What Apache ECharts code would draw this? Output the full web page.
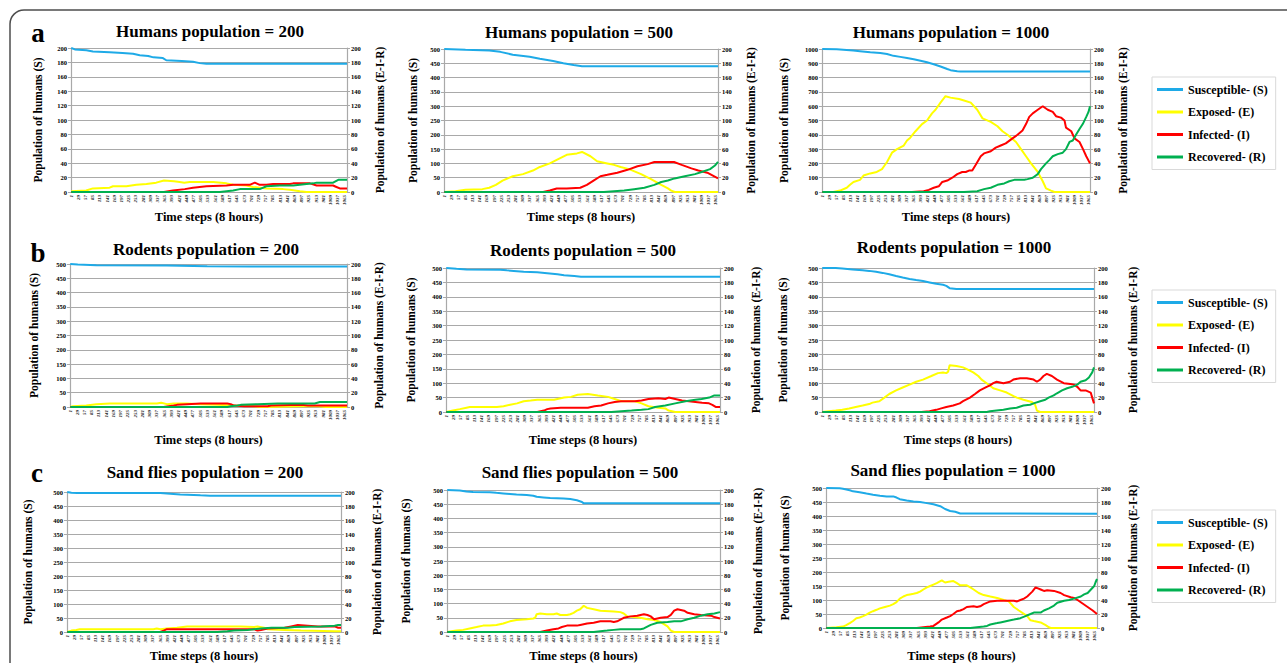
<!DOCTYPE html>
<html>
<head>
<meta charset="utf-8">
<title>SEIR simulations</title>
<script src="https://cdn.jsdelivr.net/npm/echarts@6/dist/echarts.min.js"></script>
<style>
  html, body { margin: 0; padding: 0; background: #fff; }
  #chart { width: 1287px; height: 663px; }
</style>
</head>
<body>
<div id="chart"></div>
<script>
// every point is [time step, population]

// a - humans
const humans200S = [[1,200],[15,198],[60,197],[85,195],[150,194],[200,193],[241,192],[267,190],[300,189],[320,187],[357,186],[370,183],[430,182],[474,181],[500,179],[526,178],[1072,178]];
const humans200E = [[1,1],[59,2],[85,5],[150,6],[163,8],[215,8],[254,10],[293,11],[331,13],[361,16],[400,15],[422,14],[440,13],[461,14],[552,14],[604,12],[630,10],[681,9],[707,7],[759,5],[824,4],[850,3],[889,1],[915,0],[1072,0]];
const humans200I = [[1,0],[361,0],[396,2],[442,4],[474,6],[500,7],[526,8],[604,9],[630,10],[694,10],[714,13],[733,10],[759,10],[785,11],[850,11],[863,12],[928,12],[954,9],[1018,9],[1031,7],[1044,5],[1072,5]];
const humans200R = [[1,0],[578,0],[604,1],[630,2],[656,4],[733,4],[759,8],[811,9],[863,9],[889,10],[915,11],[941,12],[954,13],[1018,13],[1038,17],[1072,17]];

const humans500S = [[1,500],[84,497],[177,495],[220,490],[269,480],[335,473],[375,466],[427,458],[467,450],[507,444],[540,440],[1072,440]];
const humans500E = [[1,0],[45,1],[84,3],[150,4],[177,6],[203,10],[229,16],[269,22],[309,25],[348,30],[375,35],[414,40],[441,45],[480,52],[520,54],[540,56],[573,50],[599,43],[639,40],[665,38],[691,35],[724,32],[771,25],[810,18],[850,10],[876,5],[889,2],[903,0],[1072,0]];
const humans500I = [[1,0],[388,0],[414,2],[441,5],[480,5],[533,6],[559,10],[585,16],[612,22],[639,24],[678,27],[718,31],[757,36],[797,39],[823,42],[900,42],[930,38],[968,33],[995,30],[1030,27],[1072,19]];
const humans500R = [[1,0],[625,0],[665,1],[705,2],[744,4],[784,6],[823,10],[850,14],[876,16],[902,19],[942,22],[982,25],[1008,28],[1041,32],[1060,37],[1072,42]];

const humans1000S = [[1,1000],[59,998],[85,995],[125,990],[152,985],[193,977],[233,972],[260,965],[286,952],[313,945],[340,937],[367,928],[394,918],[420,907],[447,893],[474,878],[501,860],[514,852],[541,845],[554,842],[1072,842]];
const humans1000E = [[1,0],[45,0],[72,2],[99,6],[112,10],[126,14],[152,17],[166,23],[193,26],[219,28],[240,32],[246,35],[260,42],[280,55],[300,60],[327,65],[340,72],[353,76],[374,85],[400,95],[420,100],[440,110],[454,115],[474,125],[494,134],[514,132],[548,130],[568,128],[595,125],[621,115],[642,103],[675,98],[702,92],[722,85],[742,80],[776,70],[796,60],[816,50],[836,40],[863,28],[883,15],[896,5],[916,2],[930,0],[1072,0]];
const humans1000I = [[1,0],[360,0],[407,1],[427,3],[447,6],[467,8],[481,14],[501,16],[521,20],[541,25],[561,28],[575,28],[588,30],[601,30],[615,38],[635,50],[648,54],[675,57],[695,62],[715,65],[735,68],[762,75],[782,80],[802,86],[816,95],[829,105],[843,110],[863,115],[883,120],[903,115],[923,112],[936,106],[956,104],[970,100],[976,90],[997,85],[1010,75],[1030,70],[1044,60],[1057,50],[1072,40]];
const humans1000R = [[1,0],[568,0],[621,1],[648,4],[675,6],[702,10],[729,12],[749,15],[769,17],[809,17],[822,18],[843,20],[863,25],[876,32],[896,40],[910,45],[923,50],[943,53],[963,55],[976,60],[990,70],[1003,72],[1016,80],[1030,88],[1043,95],[1057,105],[1066,112],[1072,120]];

// b - rodents
const rodents200S = [[1,500],[30,498],[102,496],[375,495],[427,494],[531,492],[700,491],[1072,491]];
const rodents200E = [[1,0],[11,1],[63,2],[102,4],[154,5],[336,5],[353,6],[375,4],[401,5],[453,5],[505,4],[570,3],[635,2],[713,1],[739,0],[900,1],[960,1],[990,0],[1072,0]];
const rodents200I = [[1,0],[362,0],[401,2],[414,3],[453,4],[505,5],[609,5],[622,4],[635,2],[674,1],[765,1],[778,2],[895,3],[921,2],[1072,2]];
const rodents200R = [[1,0],[609,0],[622,1],[648,2],[661,3],[726,4],[804,5],[947,5],[967,7],[1072,7]];

const rodents500S = [[1,500],[41,497],[80,495],[212,494],[238,492],[265,490],[304,487],[357,485],[396,482],[436,478],[462,475],[502,472],[528,470],[1072,470]];
const rodents500E = [[1,0],[27,2],[54,4],[80,6],[93,7],[199,7],[225,8],[251,10],[278,12],[304,15],[331,16],[357,17],[423,17],[436,18],[462,20],[489,21],[515,24],[555,25],[594,23],[634,21],[660,18],[686,15],[739,15],[765,12],[792,8],[831,6],[858,5],[871,2],[897,0],[1072,0]];
const rodents500I = [[1,0],[357,0],[383,2],[396,4],[409,5],[449,6],[555,6],[581,8],[607,9],[634,12],[660,14],[686,15],[739,15],[765,16],[792,18],[831,19],[858,18],[871,20],[897,18],[923,16],[950,15],[1002,13],[1029,12],[1042,10],[1055,7],[1072,7]];
const rodents500R = [[1,0],[647,0],[686,1],[726,2],[765,3],[792,4],[818,7],[858,9],[897,12],[937,15],[976,17],[1000,18],[1030,20],[1050,23],[1072,23]];

const rodents1000S = [[1,500],[54,500],[80,498],[120,495],[160,492],[186,490],[213,487],[239,483],[265,478],[292,472],[318,467],[345,462],[371,458],[398,455],[424,450],[450,445],[477,442],[490,438],[503,430],[530,427],[1072,427]];
const rodents1000E = [[1,0],[27,1],[54,2],[80,3],[107,5],[133,7],[160,9],[186,11],[199,13],[226,15],[246,20],[265,25],[292,30],[318,34],[345,38],[371,42],[398,45],[431,50],[457,54],[477,55],[490,54],[497,56],[503,65],[530,64],[556,62],[569,60],[596,55],[616,50],[629,45],[649,40],[675,33],[702,30],[728,27],[755,22],[768,20],[794,17],[827,14],[840,10],[847,2],[860,0],[1072,0]];
const rodents1000I = [[1,0],[391,0],[424,1],[450,3],[470,5],[490,7],[517,9],[543,12],[556,15],[583,20],[603,25],[622,30],[649,35],[662,37],[675,40],[688,42],[715,40],[741,42],[754,45],[781,47],[807,47],[834,45],[847,42],[860,45],[873,50],[886,53],[906,50],[926,45],[953,40],[979,39],[992,38],[1006,35],[1019,30],[1039,30],[1059,27],[1065,20],[1072,12]];
const rodents1000R = [[1,0],[649,0],[662,1],[688,2],[715,3],[741,5],[767,6],[794,9],[820,10],[834,12],[860,15],[880,17],[893,20],[913,23],[926,26],[946,30],[966,33],[986,35],[1006,38],[1019,42],[1039,44],[1052,48],[1065,55],[1072,62]];

// c - sand flies
const flies200S = [[1,500],[17,497],[40,496],[365,496],[391,495],[417,493],[443,491],[470,490],[522,488],[560,487],[1072,487]];
const flies200E = [[1,0],[17,2],[36,3],[50,4],[338,4],[351,5],[365,4],[391,5],[430,6],[470,8],[653,8],[680,8],[732,7],[745,8],[771,6],[785,4],[851,3],[916,2],[1047,1],[1072,1]];
const flies200I = [[1,0],[365,0],[378,2],[391,4],[732,4],[745,2],[759,3],[785,5],[851,6],[877,8],[903,10],[942,9],[982,8],[1047,8],[1061,6],[1072,6]];
const flies200R = [[1,0],[588,0],[627,1],[653,2],[706,3],[732,4],[759,5],[800,6],[864,6],[890,7],[995,8],[1047,9],[1061,10],[1072,10]];

const flies500S = [[1,500],[50,498],[76,495],[102,493],[168,492],[194,490],[221,488],[247,486],[273,484],[313,482],[339,480],[352,476],[379,474],[405,472],[458,470],[484,468],[510,464],[530,458],[537,453],[1072,453]];
const flies500E = [[1,0],[17,1],[37,2],[63,3],[89,5],[116,7],[142,9],[168,9],[194,10],[221,12],[247,15],[273,17],[313,18],[339,19],[346,20],[352,25],[366,26],[392,25],[418,25],[431,26],[445,24],[471,24],[484,25],[497,27],[510,30],[523,32],[537,37],[550,34],[576,32],[602,30],[655,29],[681,28],[694,26],[708,22],[734,21],[760,20],[787,18],[813,17],[839,14],[866,8],[879,2],[892,0],[1072,0]];
const flies500I = [[1,0],[366,0],[392,2],[418,4],[438,5],[451,7],[471,9],[510,9],[523,10],[550,12],[576,13],[589,14],[602,15],[642,15],[655,14],[668,15],[694,20],[721,22],[747,23],[773,25],[787,24],[800,22],[813,18],[839,20],[866,21],[879,24],[892,30],[905,32],[931,30],[945,27],[971,25],[997,24],[1037,23],[1050,21],[1072,19]];
const flies500R = [[1,0],[576,0],[602,1],[629,2],[655,3],[681,4],[760,4],[773,5],[800,10],[826,13],[866,14],[892,15],[918,15],[945,18],[971,20],[997,23],[1023,25],[1050,26],[1072,28]];

const flies1000S = [[1,500],[54,499],[67,497],[94,492],[107,488],[133,485],[160,480],[186,476],[213,472],[240,470],[266,470],[279,466],[292,460],[319,455],[346,452],[372,450],[399,446],[425,442],[452,435],[471,425],[491,418],[511,415],[531,409],[1072,408]];
const flies1000E = [[1,0],[41,1],[67,2],[80,4],[94,7],[107,10],[120,14],[133,15],[147,17],[160,19],[173,22],[186,24],[200,26],[213,28],[233,30],[253,32],[266,34],[279,37],[292,42],[306,45],[319,47],[332,48],[346,49],[359,50],[372,52],[385,55],[399,58],[412,60],[425,62],[438,64],[458,68],[471,65],[485,66],[504,67],[518,64],[531,61],[557,61],[571,58],[584,55],[604,50],[624,47],[650,45],[677,43],[703,40],[723,38],[743,30],[763,25],[796,17],[809,11],[822,10],[849,8],[869,4],[882,1],[889,0],[1072,0]];
const flies1000I = [[1,0],[359,0],[385,1],[412,2],[425,3],[445,8],[458,12],[478,15],[491,17],[504,20],[518,24],[531,25],[544,27],[557,30],[584,31],[597,30],[610,31],[624,34],[650,38],[677,39],[743,39],[756,38],[769,40],[783,42],[796,45],[816,52],[829,58],[836,57],[849,55],[862,53],[875,54],[902,53],[928,50],[942,47],[968,44],[981,43],[995,40],[1015,35],[1035,30],[1055,25],[1072,20]];
const flies1000R = [[1,0],[571,0],[597,1],[624,2],[637,3],[650,5],[677,7],[690,8],[716,10],[743,12],[769,14],[789,17],[809,20],[822,22],[849,22],[862,25],[882,28],[902,32],[915,36],[942,39],[961,40],[981,42],[1008,45],[1021,48],[1035,50],[1048,55],[1061,60],[1066,65],[1072,70]];

const seriesNames = ['Susceptible- (S)', 'Exposed- (E)', 'Infected- (I)', 'Recovered- (R)'];
const panelTitles = [
  'Humans population = 200', 'Humans population = 500', 'Humans population = 1000',
  'Rodents population = 200', 'Rodents population = 500', 'Rodents population = 1000',
  'Sand flies population = 200', 'Sand flies population = 500', 'Sand flies population = 1000'
];
const leftMax = [200, 500, 1000, 500, 500, 500, 500, 500, 500];
const leftStep = [20, 50, 100, 50, 50, 50, 50, 50, 50];
const rightMax = 200;
const rightStep = 20;
const lastStep = 1072;
const labelStep = 28;

const panelData = [
  [humans200S, humans200E, humans200I, humans200R],
  [humans500S, humans500E, humans500I, humans500R],
  [humans1000S, humans1000E, humans1000I, humans1000R],
  [rodents200S, rodents200E, rodents200I, rodents200R],
  [rodents500S, rodents500E, rodents500I, rodents500R],
  [rodents1000S, rodents1000E, rodents1000I, rodents1000R],
  [flies200S, flies200E, flies200I, flies200R],
  [flies500S, flies500E, flies500I, flies500R],
  [flies1000S, flies1000E, flies1000I, flies1000R]
];

// layout
const colors = ['#1eaae7', '#ffff00', '#ff0000', '#00b050'];
const gridBox = [
  [71, 48, 276, 144], [444, 49, 274, 143], [822, 49, 268, 143],
  [70, 264, 277, 143], [446, 268, 274, 144], [822, 268, 272, 144],
  [67, 492, 274, 141], [447, 490, 273, 142], [826, 488, 271, 141]
];
const leftGap = [27, 25, 32, 30, 29, 33, 33, 35, 35];
const rightGap = [27, 27, 27, 26, 30, 33, 30, 32, 30];
const xGap = [18, 18, 18, 26, 21, 21, 17, 17, 21];
const titlePos = [[210, 31], [579, 32], [951, 32], [206, 249], [583, 250], [954, 247], [205, 472], [580, 472], [953, 470]];
const legendTop = [77, 290, 510];

const serif = 'Liberation Serif';
const gray = '#a9a9a9';

const chart = echarts.init(document.getElementById('chart'), null, { renderer: 'svg' });

const grid = [], xAxis = [], yAxis = [], series = [];
gridBox.forEach(function (g, i) {
  grid.push({ left: g[0], top: g[1], width: g[2], height: g[3] });
  xAxis.push({
    type: 'value', gridIndex: i, min: 0, max: lastStep, interval: labelStep,
    name: 'Time steps (8 hours)', nameLocation: 'middle', nameGap: xGap[i],
    nameTextStyle: { fontFamily: serif, fontWeight: 'bold', fontSize: 12.5, color: '#000' },
    axisLine: { show: true, lineStyle: { color: gray, width: 1.2 } },
    axisTick: { show: false },
    splitLine: { show: false },
    axisLabel: {
      rotate: 90, fontSize: 5, fontFamily: serif, fontWeight: 'bold', fontStyle: 'italic',
      color: '#222', margin: 3, showMaxLabel: false,
      formatter: function (v) { return v > 1064 ? '' : String(v + 1); }
    }
  });
  yAxis.push({
    type: 'value', gridIndex: i, position: 'left', min: 0, max: leftMax[i], interval: leftStep[i],
    name: 'Population of humans (S)', nameLocation: 'middle', nameGap: leftGap[i], nameRotate: 90,
    nameTextStyle: { fontFamily: serif, fontWeight: 'bold', fontSize: 11.5, color: '#000' },
    axisLine: { show: true, lineStyle: { color: gray, width: 1.2 } },
    axisTick: { show: true, length: 3, lineStyle: { color: gray } },
    splitLine: { show: true, lineStyle: { color: gray, width: 1.2 } },
    axisLabel: { fontSize: 6.5, fontFamily: serif, fontWeight: 'bold', color: '#000', margin: 4, formatter: function (v) { return String(v); } }
  });
  yAxis.push({
    type: 'value', gridIndex: i, position: 'right', min: 0, max: rightMax, interval: rightStep,
    name: 'Population of humans (E-I-R)', nameLocation: 'middle', nameGap: rightGap[i], nameRotate: 90,
    nameTextStyle: { fontFamily: serif, fontWeight: 'bold', fontSize: 11.5, color: '#000' },
    axisLine: { show: true, lineStyle: { color: gray, width: 1.2 } },
    axisTick: { show: true, length: 3, lineStyle: { color: gray } },
    splitLine: { show: false },
    axisLabel: { fontSize: 6.5, fontFamily: serif, fontWeight: 'bold', color: '#000', margin: 4, formatter: function (v) { return String(v); } }
  });
  panelData[i].forEach(function (d, k) {
    series.push({
      name: seriesNames[k], type: 'line', data: d,
      xAxisIndex: i, yAxisIndex: k === 0 ? 2 * i : 2 * i + 1,
      symbol: 'none', showSymbol: false,
      lineStyle: { color: colors[k], width: 2 },
      itemStyle: { color: colors[k] },
      z: 2 + k
    });
  });
});

const legend = legendTop.map(function (t) {
  return {
    data: seriesNames, orient: 'vertical', left: 1152, top: t,
    icon: 'rect', itemWidth: 26, itemHeight: 3, itemGap: 9.5,
    padding: [6, 8, 6, 5],
    borderColor: '#d9d9d9', borderWidth: 1,
    selectedMode: false,
    textStyle: { fontFamily: serif, fontWeight: 'bold', fontSize: 12, color: '#000', lineHeight: 13 }
  };
});

const graphic = [{
  type: 'rect', shape: { x: 10, y: 10, width: 1320, height: 720, r: 14 },
  style: { fill: 'none', stroke: '#4d4d4d', lineWidth: 1.5 }, silent: true
}];
[['a', 38, 33], ['b', 38, 253], ['c', 37, 473]].forEach(function (p) {
  graphic.push({
    type: 'text', x: p[1], y: p[2],
    style: { text: p[0], fill: '#000', fontFamily: serif, fontWeight: 'bold', fontSize: 27, align: 'center', verticalAlign: 'middle' }
  });
});
panelTitles.forEach(function (txt, i) {
  graphic.push({
    type: 'text', x: titlePos[i][0], y: titlePos[i][1],
    style: { text: txt, fill: '#000', fontFamily: serif, fontWeight: 'bold', fontSize: 17, align: 'center', verticalAlign: 'middle' }
  });
});

chart.setOption({
  animation: false,
  backgroundColor: '#fff',
  grid: grid,
  xAxis: xAxis,
  yAxis: yAxis,
  legend: legend,
  graphic: graphic,
  series: series
});
</script>
</body>
</html>
